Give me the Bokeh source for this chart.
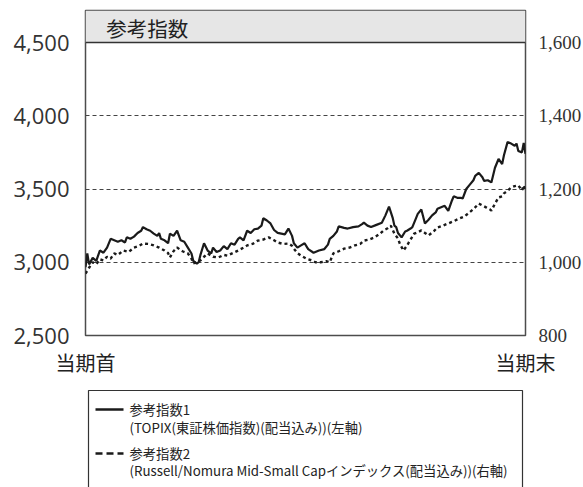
from bokeh.plotting import figure
from bokeh.models import Range1d, LinearAxis, FixedTicker, Span, BoxAnnotation, Label, NumeralTickFormatter
from bokeh.layouts import column
from bokeh.core.properties import value
from bokeh.embed import file_html
from bokeh.resources import INLINE

# ---------------- data ----------------
days_1 = [0, 1, 2, 4, 6, 8, 10, 12, 14, 16, 18, 20, 22, 23, 25, 27, 29, 31, 32, 34, 36, 38, 40, 41, 42, 44, 46, 47,
          49, 51, 53, 55, 57, 59, 60, 62, 63, 64, 66, 68, 70, 71, 73, 75, 77, 79, 81, 83, 85, 86, 88, 90, 92, 94, 96,
          98, 99, 101, 103, 105, 107, 109, 111, 113, 115, 116, 118, 120, 122, 124, 127, 130, 133, 135, 136, 138, 140,
          141, 144, 146, 149, 152, 154, 155, 157, 159, 162, 165, 167, 169, 171, 172, 173, 174, 176, 178, 179, 181,
          182, 184, 185, 187, 189, 191, 193, 195, 196, 198, 200, 202, 204, 205, 207, 209, 210, 212, 214, 216, 217,
          219, 221, 222, 224, 226, 228, 230, 232, 233, 235, 237, 239, 240, 241, 243, 244, 245]
topix = [2966, 3060, 2985, 3030, 3010, 3080, 3065, 3100, 3160, 3150, 3140, 3150, 3135, 3170, 3160, 3175, 3200, 3215,
         3240, 3225, 3215, 3195, 3180, 3200, 3160, 3150, 3130, 3195, 3180, 3215, 3150, 3140, 3100, 3060, 3010, 2990,
         3000, 3050, 3130, 3080, 3060, 3100, 3070, 3080, 3110, 3090, 3130, 3120, 3160, 3170, 3150, 3215, 3200, 3225,
         3230, 3250, 3300, 3285, 3265, 3220, 3200, 3195, 3190, 3230, 3180, 3130, 3100, 3115, 3130, 3090, 3065, 3080,
         3090, 3120, 3160, 3180, 3210, 3245, 3235, 3230, 3240, 3245, 3260, 3270, 3250, 3240, 3255, 3270, 3320, 3380,
         3305, 3250, 3240, 3200, 3170, 3210, 3215, 3230, 3240, 3300, 3330, 3360, 3265, 3290, 3320, 3340, 3365, 3375,
         3385, 3350, 3420, 3450, 3440, 3440, 3435, 3500, 3530, 3560, 3590, 3610, 3580, 3555, 3560, 3545, 3645, 3705,
         3670, 3730, 3820, 3810, 3795, 3810, 3760, 3750, 3815, 3740]

days_2 = [0, 2, 4, 6, 8, 10, 12, 14, 16, 18, 21, 24, 27, 30, 32, 35, 38, 41, 44, 46, 47, 49, 51, 54, 57, 59, 60, 62,
          64, 66, 68, 71, 74, 77, 79, 82, 85, 88, 90, 93, 96, 99, 102, 105, 107, 110, 113, 115, 116, 118, 120, 123,
          126, 128, 131, 134, 136, 138, 141, 144, 147, 150, 153, 155, 158, 161, 164, 166, 168, 170, 172, 174, 175,
          177, 179, 180, 182, 183, 185, 187, 189, 191, 194, 196, 199, 202, 205, 208, 211, 213, 216, 219, 221, 223,
          225, 226, 228, 230, 232, 233, 235, 237, 239, 241, 243, 244, 245]
russell = [969, 985, 1000, 995, 1008, 1005, 1015, 1010, 1024, 1020, 1032, 1028, 1040, 1045, 1051, 1050, 1046, 1040,
           1032, 1025, 1013, 1030, 1040, 1030, 1024, 1010, 997, 1000, 1005, 1015, 1024, 1015, 1013, 1020, 1018, 1025,
           1032, 1040, 1046, 1050, 1059, 1062, 1068, 1060, 1054, 1050, 1051, 1045, 1037, 1025, 1018, 1010, 1005, 1000,
           1000, 1003, 1000, 1024, 1030, 1037, 1040, 1046, 1050, 1059, 1062, 1068, 1078, 1087, 1092, 1100, 1078, 1065,
           1051, 1032, 1045, 1054, 1070, 1078, 1082, 1087, 1080, 1073, 1085, 1095, 1100, 1106, 1112, 1119, 1125, 1133,
           1145, 1160, 1155, 1150, 1145, 1141, 1160, 1177, 1180, 1188, 1195, 1204, 1208, 1210, 1196, 1210, 1195]

left_ticks = [2500, 3000, 3500, 4000, 4500]
right_ticks = [800, 1000, 1200, 1400, 1600]
grid_ticks = [3000, 3500, 4000]
x_ticks = [0, 245]
x_labels = ["当期首", "当期末"]
title = "参考指数"
legend_1 = ["参考指数1", "(TOPIX(東証株価指数)(配当込み))(左軸)"]
legend_2 = ["参考指数2", "(Russell/Nomura Mid-Small Capインデックス(配当込み))(右軸)"]

# ---------------- styling ----------------
INK = "#1a1a1a"
AX = "#4d4d4d"
NUM_FONT = "Open Sans"
NARROW = "Liberation Sans Narrow"
CJK = "Noto Sans CJK JP"

LEFT_TOP = 4500 + 32 * 2000 / 293.0
RIGHT_TOP = 1600 + 32 * 800 / 293.0

p = figure(frame_width=440, frame_height=325,
           x_range=Range1d(0, 245), y_range=Range1d(2500, LEFT_TOP),
           output_backend="svg", toolbar_location=None,
           min_border_left=85, min_border_right=40, min_border_top=10, min_border_bottom=37)
p.extra_y_ranges = {"right": Range1d(800, RIGHT_TOP)}

p.outline_line_color = AX
p.outline_line_width = 1.5
p.background_fill_color = "white"
p.border_fill_color = "white"

# header band
p.add_layout(BoxAnnotation(bottom=4500, fill_color="#e6e6e6", fill_alpha=1.0, line_color=None, level="underlay"))
p.add_layout(Span(location=4500, dimension="width", line_color="#333333", line_width=1.5))
p.add_layout(Label(x=11.5, y=4500 + 15 * 2000 / 293.0, text=title, text_font=CJK, text_font_size="20.5px",
                   text_color="#222222", text_baseline="middle"))

# grid
p.xgrid.visible = False
p.ygrid.ticker = FixedTicker(ticks=grid_ticks)
p.ygrid.grid_line_color = "#444444"
p.ygrid.grid_line_dash = "4 3"
p.ygrid.grid_line_width = 1

# left axis
la = p.yaxis[0]
la.ticker = FixedTicker(ticks=left_ticks)
la.formatter = NumeralTickFormatter(format="0,0")
la.axis_line_color = None
la.major_tick_line_color = None
la.minor_tick_line_color = None
la.major_tick_out = 0
la.major_label_standoff = 16
la.major_label_text_font = NUM_FONT
la.major_label_text_font_size = "22px"
la.major_label_text_color = "#333333"

# right axis
ra = LinearAxis(y_range_name="right", ticker=FixedTicker(ticks=right_ticks),
                formatter=NumeralTickFormatter(format="0,0"))
ra.axis_line_color = None
ra.major_tick_line_color = None
ra.minor_tick_line_color = None
ra.major_tick_out = 0
ra.major_label_standoff = 13
ra.major_label_text_font = NARROW
ra.major_label_text_font_size = "19px"
ra.major_label_text_color = "#333333"
p.add_layout(ra, "right")

# x axis
xa = p.xaxis[0]
xa.ticker = FixedTicker(ticks=x_ticks)
xa.major_label_overrides = {x_ticks[0]: x_labels[0], x_ticks[1]: x_labels[1]}
xa.axis_line_color = None
xa.major_tick_line_color = None
xa.minor_tick_line_color = None
xa.major_tick_out = 0
xa.major_label_standoff = 12
xa.major_label_text_font = CJK
xa.major_label_text_font_size = "20px"
xa.major_label_text_color = "#222222"

# series
p.line(days_2, russell, y_range_name="right", line_color=INK, line_width=2.4, line_dash="3 3")
p.line(days_1, topix, line_color=INK, line_width=2.2)

# ---------------- legend panel (coordinates = panel pixels) ----------------
p2 = figure(frame_width=440, frame_height=115, x_range=Range1d(85, 525), y_range=Range1d(115, 0),
            output_backend="svg", toolbar_location=None,
            min_border_left=85, min_border_right=40, min_border_top=0, min_border_bottom=0,
            x_axis_location=None, y_axis_location=None)
p2.outline_line_color = None
p2.grid.visible = False
p2.border_fill_color = "white"

p2.quad(left=[88], right=[522], top=[11], bottom=[140], fill_color=None, line_color="#333333", line_width=1.2)
p2.line([95, 123], [30, 30], line_color=INK, line_width=2.5)
p2.line([95, 123], [74, 74], line_color=INK, line_width=2.5, line_dash="7 4")

p2.text(x=[129, 129, 129, 129], y=[30, 48, 74, 91],
        text=[legend_1[0], legend_1[1], legend_2[0], legend_2[1]],
        text_font=value(CJK), text_font_size="13.3px", text_color="#222222", text_baseline="middle")

layout = column(p, p2, spacing=0)
open("out.html", "w").write(file_html(layout, INLINE))
